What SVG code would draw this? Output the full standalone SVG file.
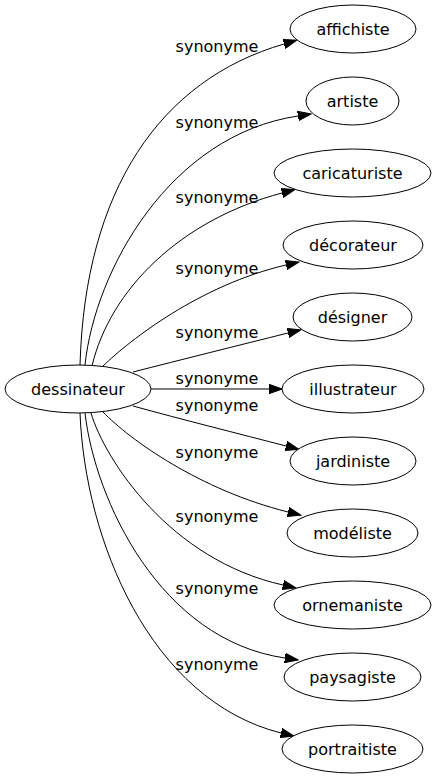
<svg xmlns="http://www.w3.org/2000/svg" width="436" height="779" viewBox="0 0 436 779">
<defs>
<style>
.node ellipse{fill:#fff;stroke:#000;stroke-width:1}
text{font-family:"DejaVu Sans","Liberation Sans",sans-serif;font-size:16px;fill:#000}
.node text{text-anchor:middle}
.lbl{text-anchor:middle}
.edge path{fill:none;stroke:#000;stroke-width:1;marker-end:url(#arr)}
</style>
<marker id="arr" markerUnits="userSpaceOnUse" viewBox="0 -5 14 10" markerWidth="14" markerHeight="10" refX="0" refY="0" orient="auto">
<path d="M0,-4.7 L13.3,0 L0,4.7 Z" fill="#000" stroke="#000" stroke-width="1"/>
</marker>
</defs>
<rect width="436" height="779" fill="#fff"/>
<g id="edges">
<g class="edge"><path d="M80,365 C85,190 160,80 284,44"/><text class="lbl" x="217" y="52">synonyme</text></g>
<g class="edge"><path d="M85,365 C95,270 170,135 298,116"/><text class="lbl" x="217" y="128">synonyme</text></g>
<g class="edge"><path d="M92,366 C110,290 180,220 282,193"/><text class="lbl" x="217" y="203">synonyme</text></g>
<g class="edge"><path d="M103,366 C130,340 200,285 286,265"/><text class="lbl" x="217" y="274">synonyme</text></g>
<g class="edge"><path d="M133,372 C180,360 240,345 288,333"/><text class="lbl" x="217" y="338">synonyme</text></g>
<g class="edge"><path d="M151,389 L269,389"/><text class="lbl" x="217" y="384">synonyme</text></g>
<g class="edge"><path d="M133,406 C180,419 240,434 286,446"/><text class="lbl" x="217" y="411">synonyme</text></g>
<g class="edge"><path d="M103,412 C130,440 200,490 288,512"/><text class="lbl" x="217" y="458">synonyme</text></g>
<g class="edge"><path d="M91,413 C105,460 170,560 283,585"/><text class="lbl" x="217" y="522">synonyme</text></g>
<g class="edge"><path d="M85,413 C95,500 160,640 285,658"/><text class="lbl" x="217" y="594">synonyme</text></g>
<g class="edge"><path d="M80,413 C85,540 150,700 281,733"/><text class="lbl" x="217" y="670">synonyme</text></g>
</g>
<g id="dessinateur" class="node"><ellipse cx="78" cy="389" rx="73" ry="24"/><text x="78" y="395">dessinateur</text></g>
<g id="affichiste" class="node"><ellipse cx="353" cy="29" rx="63" ry="24"/><text x="353" y="35">affichiste</text></g>
<g id="artiste" class="node"><ellipse cx="352.5" cy="101" rx="46.5" ry="24"/><text x="352.5" y="107">artiste</text></g>
<g id="caricaturiste" class="node"><ellipse cx="352.5" cy="173" rx="78.5" ry="24"/><text x="352.5" y="179">caricaturiste</text></g>
<g id="decorateur" class="node"><ellipse cx="353" cy="245" rx="70" ry="24"/><text x="353" y="251">décorateur</text></g>
<g id="designer" class="node"><ellipse cx="352.5" cy="317" rx="59.5" ry="24"/><text x="352.5" y="323">désigner</text></g>
<g id="illustrateur" class="node"><ellipse cx="353" cy="389" rx="71" ry="24"/><text x="353" y="395">illustrateur</text></g>
<g id="jardiniste" class="node"><ellipse cx="353" cy="461" rx="63" ry="24"/><text x="353" y="467">jardiniste</text></g>
<g id="modeliste" class="node"><ellipse cx="352.5" cy="533" rx="65.5" ry="24"/><text x="352.5" y="539">modéliste</text></g>
<g id="ornemaniste" class="node"><ellipse cx="352.5" cy="605" rx="78.5" ry="24"/><text x="352.5" y="611">ornemaniste</text></g>
<g id="paysagiste" class="node"><ellipse cx="352.5" cy="677" rx="68.5" ry="24"/><text x="352.5" y="683">paysagiste</text></g>
<g id="portraitiste" class="node"><ellipse cx="352.5" cy="749" rx="70.5" ry="24"/><text x="352.5" y="755">portraitiste</text></g>
</svg>
